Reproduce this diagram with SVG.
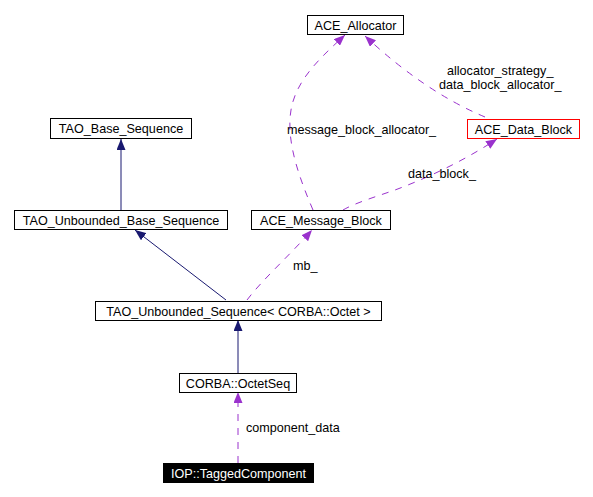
<svg xmlns="http://www.w3.org/2000/svg" width="593" height="497" viewBox="0 0 593 497">
<style>
text{font-family:"Liberation Sans",Arial,Helvetica,sans-serif;font-size:12.6px;fill:#000}
.box{fill:#fff;stroke:#000;stroke-width:1}
.lbl{text-anchor:middle}
.inh{fill:none;stroke:#191970;stroke-width:1}
.use{fill:none;stroke:#9a32cd;stroke-width:1;stroke-dasharray:7,7}
</style>
<defs>
<marker id="an" markerUnits="userSpaceOnUse" markerWidth="12" markerHeight="9" refX="11" refY="4.5" orient="auto"><path d="M0,0 L11,4.5 L0,9 z" fill="#191970"/></marker>
<marker id="ap" markerUnits="userSpaceOnUse" markerWidth="12" markerHeight="9" refX="11" refY="4.5" orient="auto"><path d="M0,0 L11,4.5 L0,9 z" fill="#9a32cd"/></marker>
</defs>
<rect width="593" height="497" fill="#fff"/>
<g id="connectors">
<path class="inh" d="M121,210 L121,139" marker-end="url(#an)"/>
<path class="inh" d="M226,300 L135,230" marker-end="url(#an)"/>
<path class="inh" d="M238,373 L238,320" marker-end="url(#an)"/>
<path class="use" d="M247,300 C262,280 290,255 312,230" marker-end="url(#ap)"/>
<path class="use" d="M238,463 L238,392" marker-end="url(#ap)"/>
<path class="use" d="M313,210 C298,175 286,140 291,110 C296,80 320,58 345,35" marker-end="url(#ap)"/>
<path class="use" d="M343,210 C355,203 375,197 395,190 C430,177 465,160 497,139" marker-end="url(#ap)"/>
<path class="use" d="M485,117 Q425,92 365,36" marker-end="url(#ap)"/>
<text x="293" y="270">mb_</text>
<text x="246" y="432">component_data</text>
<text x="287" y="134">message_block_allocator_</text>
<text x="408" y="178">data_block_</text>
<text x="447" y="75">allocator_strategy_</text>
<text x="439" y="89">data_block_allocator_</text>
</g>
<g id="ACE_Allocator"><rect class="box" x="307.5" y="15.5" width="96" height="19"/><text class="lbl" x="355.5" y="29.5">ACE_Allocator</text></g>
<g id="ACE_Data_Block"><rect class="box" x="467.5" y="119.5" width="112" height="19" style="stroke:#ff0000"/><text class="lbl" x="523.5" y="133.5">ACE_Data_Block</text></g>
<g id="TAO_Base_Sequence"><rect class="box" x="50.5" y="118.5" width="141" height="20"/><text class="lbl" x="121" y="133">TAO_Base_Sequence</text></g>
<g id="TAO_Unbounded_Base_Sequence"><rect class="box" x="14.5" y="210.5" width="213" height="19"/><text class="lbl" x="121" y="224.5">TAO_Unbounded_Base_Sequence</text></g>
<g id="ACE_Message_Block"><rect class="box" x="251.5" y="210.5" width="139" height="19"/><text class="lbl" x="321" y="224.5">ACE_Message_Block</text></g>
<g id="TAO_Unbounded_Sequence"><rect class="box" x="95.5" y="301.5" width="286" height="19"/><text class="lbl" x="238.5" y="315.5">TAO_Unbounded_Sequence&lt; CORBA::Octet &gt;</text></g>
<g id="CORBA_OctetSeq"><rect class="box" x="179.5" y="373.5" width="117" height="19"/><text class="lbl" x="238" y="387.5">CORBA::OctetSeq</text></g>
<g id="IOP_TaggedComponent"><rect x="163" y="463" width="151" height="20" fill="#000"/><text class="lbl" x="238.5" y="477.5" style="fill:#fff">IOP::TaggedComponent</text></g>
</svg>
